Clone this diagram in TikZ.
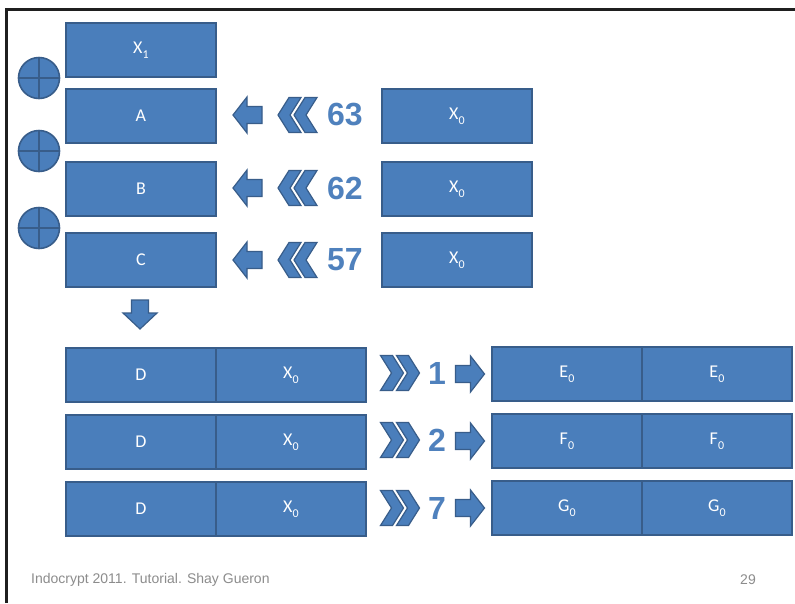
\documentclass[tikz,border=0pt]{standalone}
\usepackage{fontspec}
\setmainfont{Carlito}
\newfontfamily\arialfont{Liberation Sans}
\definecolor{boxfill}{HTML}{4A7EBB}
\definecolor{boxedge}{HTML}{385D8A}
\definecolor{numblue}{HTML}{4F81BD}
\definecolor{frameink}{HTML}{1F1F1F}
\definecolor{footgray}{HTML}{8C8C8C}
\newcommand\lowidx[1]{\raisebox{-0.28em}{\fontsize{12}{12}\selectfont #1}}
\begin{document}
\begin{tikzpicture}[x=1pt,y=-1pt,
  blk/.style={draw=boxedge, fill=boxfill, line width=1.8pt,
    minimum width=150pt, minimum height=54pt, inner sep=0pt,
    text=white, font=\fontsize{18}{18}\selectfont, anchor=north west},
  num/.style={text=numblue, font=\arialfont\bfseries\fontsize{32}{32}\selectfont, inner sep=0pt},
  foot/.style={text=footgray, font=\arialfont\fontsize{14}{14}\selectfont, inner sep=0pt},
  shp/.style={fill=boxfill, draw=boxedge, line width=1.2pt, line join=miter},
  xorsym/.style={circle, draw=boxedge, fill=boxfill, line width=1.6pt,
    minimum size=41pt, inner sep=0pt,
    path picture={\draw[boxedge, line width=1.6pt]
      (path picture bounding box.north) -- (path picture bounding box.south)
      (path picture bounding box.west) -- (path picture bounding box.east);}},
  larrow/.pic={\path[shp] (-14.5,0) -- (-0.5,-18) -- (-0.5,-8.5) -- (14.5,-8.5)
      -- (14.5,8.5) -- (-0.5,8.5) -- (-0.5,18) -- cycle;},
  rarrow/.pic={\path[shp] (14.5,0) -- (0.5,-18) -- (0.5,-8.5) -- (-14.5,-8.5)
      -- (-14.5,8.5) -- (0.5,8.5) -- (0.5,18) -- cycle;},
  darrow/.pic={\path[shp] (0,14.5) -- (-17,-1.5) -- (-8.5,-1.5) -- (-8.5,-14.5)
      -- (8.5,-14.5) -- (8.5,-1.5) -- (17,-1.5) -- cycle;},
  lchev/.pic={\foreach \a in {-20,-4}{\path[shp] (\a,0) -- (\a+11,-17.5) -- (\a+23,-17.5)
      -- (\a+12,0) -- (\a+23,17.5) -- (\a+11,17.5) -- cycle;}},
  rchev/.pic={\foreach \a in {20,4}{\path[shp] (\a,0) -- (\a-11,-17.5) -- (\a-23,-17.5)
      -- (\a-12,0) -- (\a-23,17.5) -- (\a-11,17.5) -- cycle;}},
]
\useasboundingbox (0,0) rectangle (795,603);
\fill[white] (0,0) rectangle (795,603);

% slide frame
\draw[frameink, line width=3pt] (6.5,603) -- (6.5,9.5) -- (795,9.5);

% left column: X1, A, B, C
\node[blk] (x1) at (65,22)  {X\lowidx{1}};
\node[blk] (ra) at (65,88)  {A};
\node[blk] (rb) at (65,161) {B};
\node[blk] (rc) at (65,232) {C};

% xor symbols between the registers
\node[xorsym] (xo1) at (39,78)  {};
\node[xorsym] (xo2) at (39,151) {};
\node[xorsym] (xo3) at (39,228) {};

% rotated copies of X0
\node[blk] (s1) at (381,88)  {X\lowidx{0}};
\node[blk] (s2) at (381,161) {X\lowidx{0}};
\node[blk] (s3) at (381,232) {X\lowidx{0}};

\node[num] (n63) at (345,115) {63};
\node[num] (n62) at (345,188) {62};
\node[num] (n57) at (345,260) {57};

\pic at (298,115) {lchev};
\pic at (298,188) {lchev};
\pic at (298,260) {lchev};
\pic at (247.5,115) {larrow};
\pic at (247.5,188) {larrow};
\pic at (247.5,260) {larrow};

\pic at (140,314.5) {darrow};

% bottom: D || X0 shifted into E0 || E0 etc.
\node[blk] (d1) at (65,347) {D};
\node[blk] (y1) at (215,347) {X\lowidx{0}};
\node[blk] (d2) at (65,414) {D};
\node[blk] (y2) at (215,414) {X\lowidx{0}};
\node[blk] (d3) at (65,481) {D};
\node[blk] (y3) at (215,481) {X\lowidx{0}};

\node[blk] (e1) at (491,346) {E\lowidx{0}};
\node[blk] (e2) at (641,346) {E\lowidx{0}};
\node[blk] (f1) at (491,413) {F\lowidx{0}};
\node[blk] (f2) at (641,413) {F\lowidx{0}};
\node[blk] (g1) at (491,480) {G\lowidx{0}};
\node[blk] (g2) at (641,480) {G\lowidx{0}};

\pic at (399.5,373) {rchev};
\pic at (399.5,440) {rchev};
\pic at (399.5,508) {rchev};
\node[num] (n1) at (437,373) {1};
\node[num] (n2) at (437,440) {2};
\node[num] (n7) at (437,508) {7};
\pic at (470,374) {rarrow};
\pic at (470,441) {rarrow};
\pic at (470,508) {rarrow};

% footer
\node[foot, anchor=west] (ft) at (31,580) {Indocrypt 2011. Tutorial. Shay Gueron};
\node[foot, anchor=east] (pg) at (756,580) {29};
\end{tikzpicture}
\end{document}
